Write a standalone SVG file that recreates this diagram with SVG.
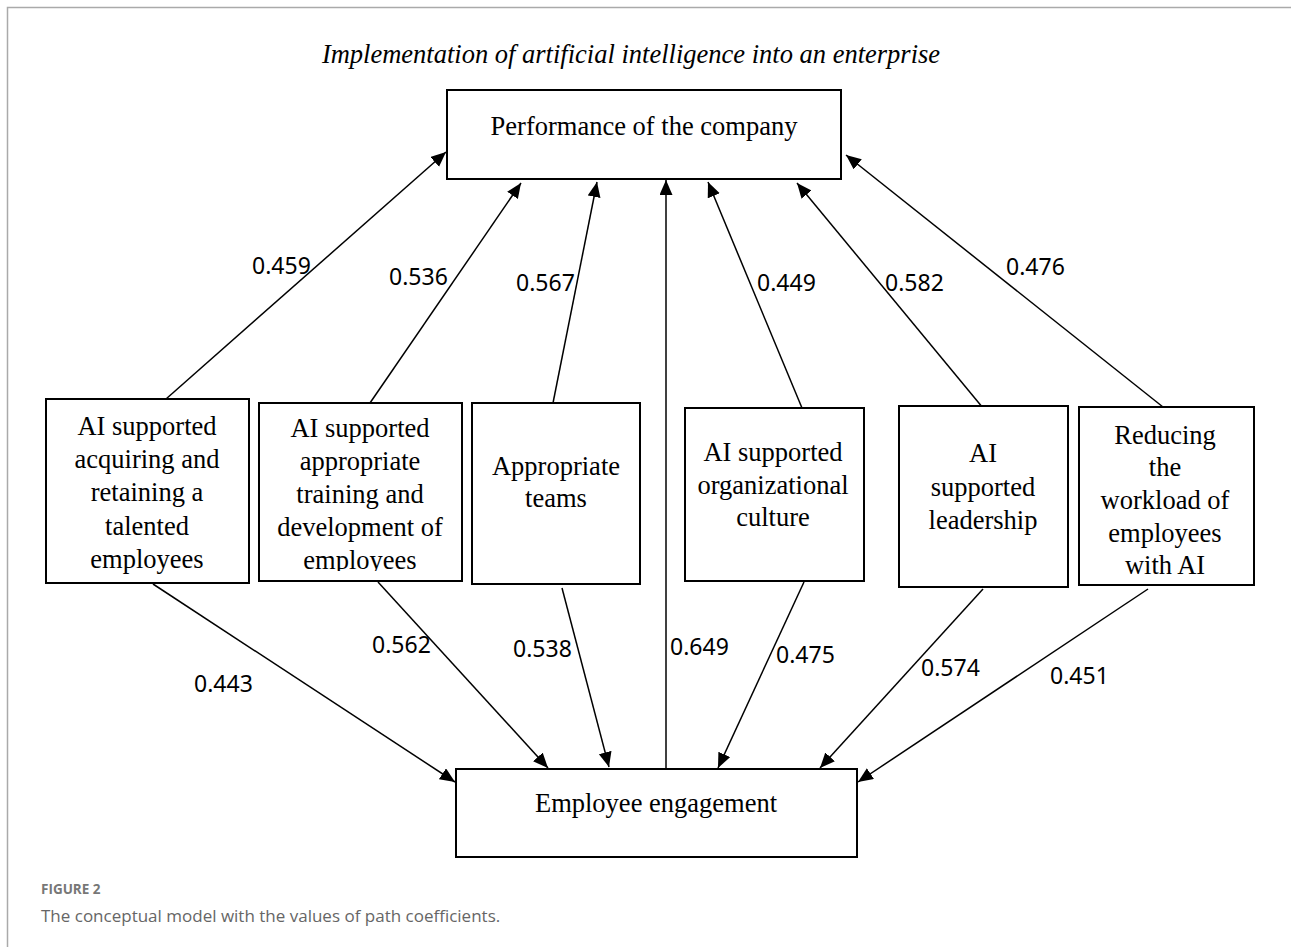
<svg xmlns="http://www.w3.org/2000/svg" width="1291" height="947" viewBox="0 0 1291 947">
<style>
.box{fill:#fff;stroke:#000;stroke-width:2}
.t{font-family:"Liberation Serif","Times New Roman",serif;font-size:26.5px;fill:#000;text-anchor:middle}
.lbl{font-family:"Noto Sans","DejaVu Sans",sans-serif;font-size:23px;fill:#000}
.c{stroke:#000;stroke-width:1.5;fill:none;marker-end:url(#ah)}
</style>
<defs>
<marker id="ah" markerUnits="userSpaceOnUse" markerWidth="18" markerHeight="14" refX="15" refY="6.5" orient="auto">
<path d="M0,0 L15,6.5 L0,13 Z" fill="#000"/>
</marker>
<clipPath id="clip2"><rect x="259" y="403" width="203" height="168"/></clipPath>
</defs>
<rect width="1291" height="947" fill="#fff"/>
<path d="M7.5,947 V7.5 H1291" stroke="#aaa" stroke-width="1.5" fill="none"/>
<text x="631" y="63" font-family="Liberation Serif, serif" font-style="italic" font-size="26.5" text-anchor="middle">Implementation of artificial intelligence into an enterprise</text>

<g id="connectors">
<line class="c" x1="166" y1="399" x2="446" y2="152"/>
<line class="c" x1="370" y1="403" x2="521" y2="183"/>
<line class="c" x1="553" y1="403" x2="597" y2="182"/>
<line class="c" x1="666" y1="769" x2="666" y2="180"/>
<line class="c" x1="802" y1="408" x2="708" y2="182"/>
<line class="c" x1="983" y1="408" x2="797" y2="183"/>
<line class="c" x1="1163" y1="407" x2="846" y2="155"/>
<line class="c" x1="153" y1="584" x2="455" y2="782"/>
<line class="c" x1="378" y1="582" x2="548" y2="768"/>
<line class="c" x1="562" y1="588" x2="609" y2="767"/>
<line class="c" x1="804" y1="582" x2="718" y2="768"/>
<line class="c" x1="983" y1="589" x2="820" y2="768"/>
<line class="c" x1="1148" y1="589" x2="858" y2="782"/>
</g>
<g id="labels">
<text class="lbl" x="252" y="274">0.459</text>
<text class="lbl" x="389" y="285">0.536</text>
<text class="lbl" x="516" y="291">0.567</text>
<text class="lbl" x="757" y="291">0.449</text>
<text class="lbl" x="885" y="291">0.582</text>
<text class="lbl" x="1006" y="275">0.476</text>
<text class="lbl" x="194" y="692">0.443</text>
<text class="lbl" x="372" y="653">0.562</text>
<text class="lbl" x="513" y="657">0.538</text>
<text class="lbl" x="670" y="655">0.649</text>
<text class="lbl" x="776" y="663">0.475</text>
<text class="lbl" x="921" y="676">0.574</text>
<text class="lbl" x="1050" y="684">0.451</text>
</g>

<g id="performance">
<rect class="box" x="447" y="90" width="394" height="89"/>
<text class="t" x="644" y="135">Performance of the company</text>
</g>
<g id="engagement">
<rect class="box" x="456" y="769" width="401" height="88"/>
<text class="t" x="656" y="812">Employee engagement</text>
</g>
<g id="n1">
<rect class="box" x="46" y="399" width="203" height="184"/>
<text class="t" x="147" y="435">AI supported</text>
<text class="t" x="147" y="468">acquiring and</text>
<text class="t" x="147" y="501">retaining a</text>
<text class="t" x="147" y="535">talented</text>
<text class="t" x="147" y="568">employees</text>
</g>
<g id="n2">
<rect class="box" x="259" y="403" width="203" height="178"/>
<g clip-path="url(#clip2)">
<text class="t" x="360" y="437">AI supported</text>
<text class="t" x="360" y="470">appropriate</text>
<text class="t" x="360" y="503">training and</text>
<text class="t" x="360" y="536">development of</text>
<text class="t" x="360" y="569">employees</text>
</g>
</g>
<g id="n3">
<rect class="box" x="472" y="403" width="168" height="181"/>
<text class="t" x="556" y="475">Appropriate</text>
<text class="t" x="556" y="507">teams</text>
</g>
<g id="n4">
<rect class="box" x="685" y="408" width="179" height="173"/>
<text class="t" x="773" y="461">AI supported</text>
<text class="t" x="773" y="494">organizational</text>
<text class="t" x="773" y="526">culture</text>
</g>
<g id="n5">
<rect class="box" x="899" y="406" width="169" height="181"/>
<text class="t" x="983" y="462">AI</text>
<text class="t" x="983" y="496">supported</text>
<text class="t" x="983" y="529">leadership</text>
</g>
<g id="n6">
<rect class="box" x="1079" y="407" width="175" height="178"/>
<text class="t" x="1165" y="444">Reducing</text>
<text class="t" x="1165" y="476">the</text>
<text class="t" x="1165" y="509">workload of</text>
<text class="t" x="1165" y="542">employees</text>
<text class="t" x="1165" y="574">with AI</text>
</g>

<text x="41" y="894" font-family="Open Sans, sans-serif" font-weight="bold" font-size="13.5" fill="#777">FIGURE 2</text>
<text x="41" y="922" font-family="Open Sans, sans-serif" font-size="17" fill="#666">The conceptual model with the values of path coefficients.</text>
</svg>
